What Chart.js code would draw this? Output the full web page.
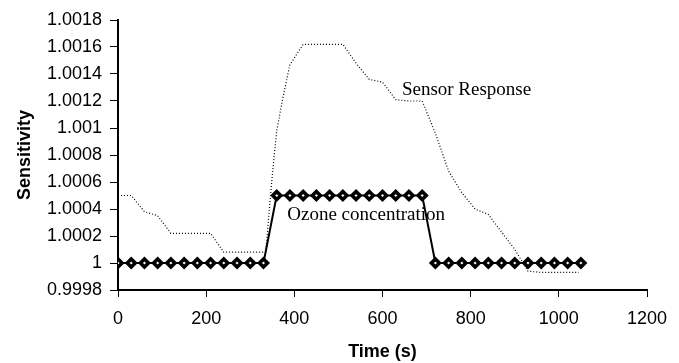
<!DOCTYPE html>
<html><head><meta charset="utf-8">
<script src="https://cdn.jsdelivr.net/npm/chart.js@4/dist/chart.umd.min.js"></script>
<style>html,body{margin:0;padding:0;background:#fff;overflow:hidden}#wrap{width:679px;height:363px}</style>
</head><body><div id="wrap"><canvas id="c" width="679" height="363"></canvas></div>
<script>
// ---- data ----
const seriesLabels = ["Sensor Response", "Ozone concentration"];
const xTitle = "Time (s)";
const yTitle = "Sensitivity";

const ozoneTimes  = [0,30,60,90,120,150,180,210,240,270,300,330,
                     360,390,420,450,480,510,540,570,600,630,660,690,
                     720,750,780,810,840,870,900,930,960,990,1020,1050];
const ozoneValues = [1,1,1,1,1,1,1,1,1,1,1,1,
                     1.0005,1.0005,1.0005,1.0005,1.0005,1.0005,1.0005,1.0005,1.0005,1.0005,1.0005,1.0005,
                     1,1,1,1,1,1,1,1,1,1,1,1];

const sensorTimes  = [0,30,60,90,120,150,180,210,240,270,300,335,350,360,375,390,400,410,420,450,480,510,
                      540,570,600,630,660,690,720,750,780,810,840,870,900,930,960,990,1020,1045];
const sensorValues = [1.0005,1.0005,1.00038,1.00035,1.00022,1.00022,1.00022,1.00022,1.00008,1.00008,1.00008,1.00008,
                      1.00065,1.00098,1.00124,1.00147,1.00152,1.00157,1.00162,1.00162,1.00162,1.00162,
                      1.00148,1.00136,1.00134,1.00121,1.0012,1.0012,1.00096,1.00068,1.00052,1.0004,1.00036,
                      1.00023,1.0001,0.99994,0.99993,0.99993,0.99993,0.99993];

const xTickValues = [0,200,400,600,800,1000,1200];
const xTickLabels = ["0","200","400","600","800","1000","1200"];
const yTickValues = [0.9998,1,1.0002,1.0004,1.0006,1.0008,1.001,1.0012,1.0014,1.0016,1.0018];
const yTickLabels = ["0.9998","1","1.0002","1.0004","1.0006","1.0008","1.001","1.0012","1.0014","1.0016","1.0018"];

// ---- chart ----
const toPts = (xs, ys) => xs.map((t, i) => ({x: t, y: ys[i]}));

const labelAnchors = [
  {text: seriesLabels[0], x: 644, y: 1.001248},
  {text: seriesLabels[1], x: 384, y: 1.000317}
];

const seriesLabelPlugin = {
  id: 'seriesLabelPlugin',
  afterDatasetsDraw(chart) {
    const {ctx, scales} = chart;
    ctx.save();
    ctx.font = '19px "Liberation Serif"';
    ctx.fillStyle = '#000';
    ctx.textAlign = 'left';
    ctx.textBaseline = 'alphabetic';
    labelAnchors.forEach(a => {
      ctx.fillText(a.text, scales.x.getPixelForValue(a.x), scales.y.getPixelForValue(a.y));
    });
    ctx.restore();
  }
};

const tickFont = {family: '"Liberation Sans", Arial, sans-serif', size: 18};
const titleFont = {family: '"Liberation Sans", Arial, sans-serif', size: 18, weight: 'bold'};

new Chart(document.getElementById('c'), {
  type: 'line',
  data: {
    datasets: [
      {
        label: seriesLabels[0],
        data: toPts(sensorTimes, sensorValues),
        borderColor: '#000',
        borderWidth: 1.2,
        borderDash: [1, 2],
        pointRadius: 0,
        tension: 0,
        fill: false
      },
      {
        label: seriesLabels[1],
        data: toPts(ozoneTimes, ozoneValues),
        borderColor: '#000',
        borderWidth: 2,
        pointStyle: 'rectRot',
        pointRadius: 4,
        pointBackgroundColor: '#fff',
        pointBorderColor: '#000',
        pointBorderWidth: 3.6,
        tension: 0,
        fill: false
      }
    ]
  },
  options: {
    responsive: false,
    animation: false,
    devicePixelRatio: 1,
    layout: {padding: {top: 20, right: 32, left: 0, bottom: 0}},
    plugins: {legend: {display: false}, tooltip: {enabled: false}},
    scales: {
      x: {
        type: 'linear',
        min: 0, max: 1200,
        afterBuildTicks: s => { s.ticks = xTickValues.map(v => ({value: v})); },
        afterFit: s => { s.height = 73; },
        ticks: {font: tickFont, color: '#000', padding: 11, maxRotation: 0, autoSkip: false,
                callback: (v, i) => xTickLabels[i]},
        grid: {drawOnChartArea: false, color: '#000', tickLength: 7, lineWidth: 1},
        border: {color: '#000', width: 2},
        title: {display: true, text: xTitle, font: titleFont, color: '#000', padding: {top: 0, bottom: 0}}
      },
      y: {
        type: 'linear',
        min: 0.9998, max: 1.0018,
        afterBuildTicks: s => { s.ticks = yTickValues.map(v => ({value: v})); },
        afterFit: s => { s.width = 118; },
        ticks: {font: tickFont, color: '#000', padding: 8, autoSkip: false,
                callback: (v, i) => yTickLabels[i]},
        grid: {drawOnChartArea: false, color: '#000', tickLength: 8, lineWidth: 1},
        border: {color: '#000', width: 2},
        title: {display: true, text: yTitle, font: titleFont, color: '#000', padding: {top: 14, bottom: 0}}
      }
    }
  },
  plugins: [seriesLabelPlugin]
});
</script>
</body></html>
